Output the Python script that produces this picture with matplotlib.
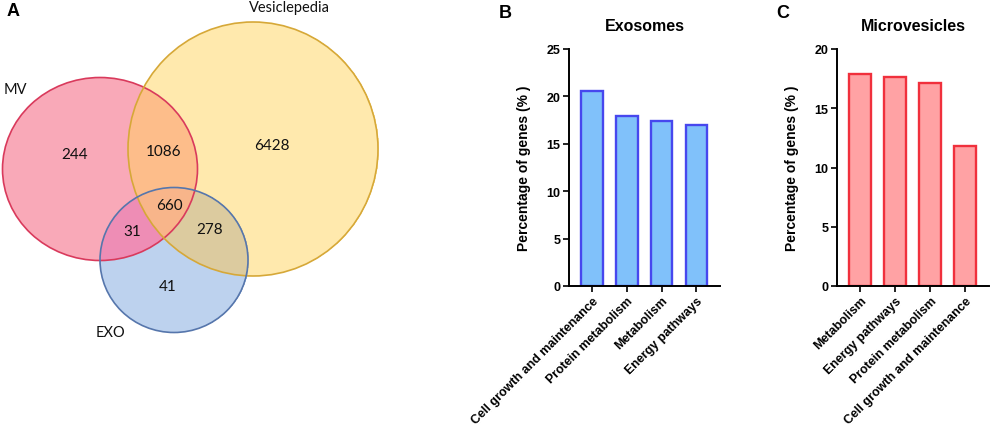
import numpy as np
import matplotlib.pyplot as plt
from matplotlib.patches import Ellipse

# ---- data ----
venn_labels = ["MV", "Vesiclepedia", "EXO"]
# region counts: MV only, MV&V, V only, MV&V&EXO, MV&EXO, V&EXO, EXO only
venn_regions = ["mv", "mv_v", "v", "all", "mv_exo", "v_exo", "exo"]
venn_counts = [244, 1086, 6428, 660, 31, 278, 41]

exo_categories = ["Cell growth and maintenance", "Protein metabolism",
                  "Metabolism", "Energy pathways"]
exo_values = [20.6, 17.9, 17.4, 17.0]

mv_categories = ["Metabolism", "Energy pathways", "Protein metabolism",
                 "Cell growth and maintenance"]
mv_values = [17.9, 17.6, 17.1, 11.8]

W, H = 996, 435
fig = plt.figure(figsize=(W / 100, H / 100), dpi=100)

# ---- panel A : venn, drawn in pixel-like coordinates ----
ax = fig.add_axes([0, 0, 400 / W, 1])
ax.set_xlim(0, 400)
ax.set_ylim(H, 0)
ax.axis("off")

# shapes (cx, cy, width, height)
mv_shape = (100, 170, 195, 183)
v_shape = (253, 150, 250, 254)
exo_shape = (174, 261, 148, 145)


def inside(shape, X, Y):
    cx, cy, w, h = shape
    return ((X - cx) / (w / 2)) ** 2 + ((Y - cy) / (h / 2)) ** 2 <= 1


# one sample per output pixel, so no resampling stripes
X, Y = np.meshgrid(np.arange(400) + 0.5, np.arange(H) + 0.5)
m = inside(mv_shape, X, Y)
v = inside(v_shape, X, Y)
e = inside(exo_shape, X, Y)

region_colors = {
    "mv": "#F9A9B8", "mv_v": "#FDBD8A", "v": "#FFE9AD", "all": "#F8B58A",
    "mv_exo": "#EE8DB5", "v_exo": "#DCCB9F", "exo": "#BDD2EE",
}
masks = {
    "mv": m & ~v & ~e, "mv_v": m & v & ~e, "v": v & ~m & ~e, "all": m & v & e,
    "mv_exo": m & e & ~v, "v_exo": v & e & ~m, "exo": e & ~m & ~v,
}
img = np.ones(X.shape + (4,))
for key, col in region_colors.items():
    img[masks[key]] = plt.matplotlib.colors.to_rgba(col)
ax.imshow(img, extent=(0, 400, H, 0), interpolation="nearest", zorder=1)

edges = [(mv_shape, "#D93A5C"), (v_shape, "#D6A838"), (exo_shape, "#5676AC")]
for (cx, cy, w, h), ec in edges:
    ax.add_patch(Ellipse((cx, cy), w, h, fill=False, ec=ec, lw=1.2, zorder=2))

count_pos = {"mv": (75, 155), "mv_v": (164, 152), "v": (272, 146),
             "all": (169, 206), "mv_exo": (132, 232), "v_exo": (210, 230),
             "exo": (168, 287)}
for key, n in zip(venn_regions, venn_counts):
    x, y = count_pos[key]
    ax.text(x, y, str(n), ha="center", va="center", fontsize=11,
            family="Lato", color="#111111", zorder=3)

label_pos = [(15, 90), (289, 8), (110, 333)]
for lab, (x, y) in zip(venn_labels, label_pos):
    ax.text(x, y, lab, ha="center", va="center", fontsize=10.5,
            family="Lato", color="#111111")

# ---- bar panels ----
plt.rcParams["font.family"] = "Liberation Sans"
plt.rcParams["font.weight"] = "bold"


def bar_panel(rect, cats, vals, ymax, face, edge, title):
    a = fig.add_axes(rect)
    pos = np.arange(len(cats))
    a.bar(pos, vals, width=0.62, color=face, edgecolor=edge, linewidth=1.7)
    a.set_xlim(-0.66, 3.68)
    a.set_ylim(0, ymax)
    a.set_yticks(np.arange(0, ymax + 1, 5))
    a.set_xticks(pos)
    a.set_xticklabels(cats, rotation=45, ha="right", rotation_mode="anchor",
                      fontsize=9, fontweight="bold")
    for t in a.get_yticklabels():
        t.set_fontsize(9)
        t.set_fontweight("bold")
    a.spines[["top", "right"]].set_visible(False)
    a.spines[["left", "bottom"]].set_linewidth(1.4)
    a.tick_params(axis="both", width=1.4, length=4, pad=2, color="#222222")
    a.set_ylabel("Percentage of genes (% )", fontsize=10, fontweight="bold",
                 labelpad=11)
    a.set_title(title, fontsize=11.5, fontweight="bold", pad=14)
    return a


bar_panel([569 / W, 1 - 287 / H, 151 / W, 237 / H], exo_categories,
          exo_values, 25, "#80C1FA", "#4747EE", "Exosomes")
bar_panel([837 / W, 1 - 287 / H, 152 / W, 237 / H], mv_categories,
          mv_values, 20, "#FFA2A4", "#F0303C", "Microvesicles")

# panel letters
for lab, (x, y) in zip("ABC", [(13, 12), (505, 14), (783, 14)]):
    fig.text(x / W, 1 - y / H, lab, ha="center", va="center", fontsize=13,
             fontweight="bold", family="Liberation Sans")

fig.savefig("out.png", dpi=100)
